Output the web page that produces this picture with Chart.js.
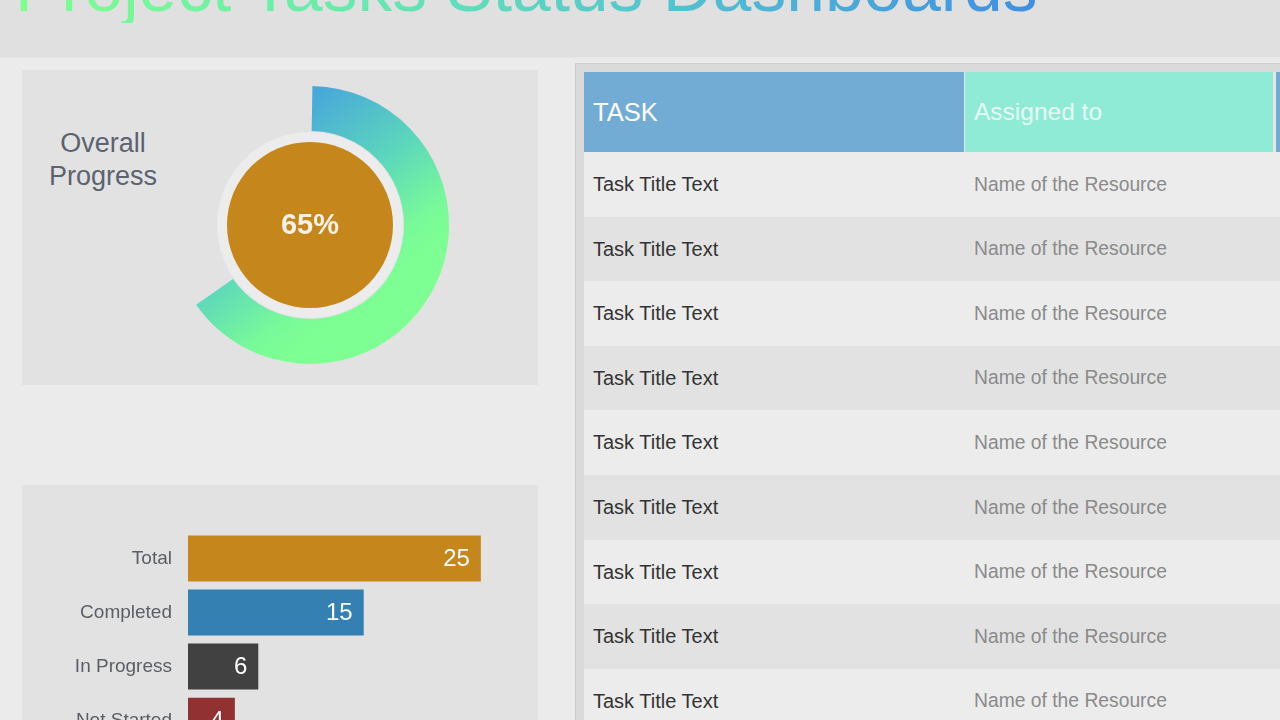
<!DOCTYPE html>
<html>
<head>
<meta charset="utf-8">
<script src="https://cdn.jsdelivr.net/npm/chart.js@4.4.0/dist/chart.umd.min.js"></script>
<style>
    body { margin: 0; width: 1280px; height: 720px; overflow: hidden; background: #ebebeb; font-family: "Liberation Sans", Arial, sans-serif; position: relative; }
    .topband { position: absolute; left: 0; top: 0; width: 1280px; height: 57px; background: #e0e0e0; border-bottom: 1px solid #e6e6e6; overflow: hidden; }
    .title { position: absolute; left: 15px; top: -47px; font-size: 69.5px; line-height: 69.5px; white-space: nowrap;
        background: linear-gradient(90deg, #7dff8f 0%, #66e8b0 35%, #55c8cc 60%, #3f8fe2 100%);
        -webkit-background-clip: text; background-clip: text; color: transparent; }
    .panel { position: absolute; left: 22px; width: 516px; background: #e2e2e2; }
    .prog_label { position: absolute; left: 28px; top: 127px; width: 150px; text-align: center; font-size: 27px; line-height: 33px; color: #5b6270; }
    canvas { position: absolute; }
    .frame { position: absolute; left: 575px; top: 63px; width: 705px; height: 670px; background: #dadada; border-left: 1px solid #c9c9c9; border-top: 1px solid #cdcdcd; }
    .tbl { position: absolute; left: 584px; top: 72px; width: 696px; height: 660px; background: #ececec; overflow: hidden; }
    .row { position: absolute; left: 0; width: 696px; height: 65px; }
    .cell { position: absolute; top: 0; height: 100%; display: flex; align-items: center; box-sizing: border-box; padding-left: 9px; font-size: 20px; white-space: nowrap; }
</style>
</head>
<body>

<div class="topband"><div class="title">Project Tasks Status Dashboards</div></div>

<div class="panel" style="top:70px;height:315px;"></div>
<div class="prog_label">Overall<br>Progress</div>
<canvas id="progress_chart" width="300" height="300" style="left:160px;top:75px;"></canvas>

<div class="panel" style="top:485px;height:260px;"></div>
<canvas id="status_chart" width="516" height="290" style="left:22px;top:485px;"></canvas>

<div class="frame"></div>
<div class="tbl" id="task_table"></div>

<script>
// overall progress
const progress_labels = ['Done', 'Remaining'];
const progress_values = [65, 35];

// task status counts
const status_labels = ['Total', 'Completed', 'In Progress', 'Not Started'];
const status_values = [25, 15, 6, 4];
const status_colors = ['#c5861b', '#3480b2', '#414141', '#923131'];

// task table
const table_headers = ['TASK', 'Assigned to', ''];
const task_titles = ['Task Title Text', 'Task Title Text', 'Task Title Text', 'Task Title Text', 'Task Title Text',
    'Task Title Text', 'Task Title Text', 'Task Title Text', 'Task Title Text'];
const task_owners = ['Name of the Resource', 'Name of the Resource', 'Name of the Resource', 'Name of the Resource',
    'Name of the Resource', 'Name of the Resource', 'Name of the Resource', 'Name of the Resource', 'Name of the Resource'];

Chart.defaults.font.family = '"Liberation Sans", Arial, sans-serif';


// PROGRESS DOUGHNUT
const center_plugin = {
    id: 'center_plugin',
    afterDatasetsDraw(chart) {
        const arc = chart.getDatasetMeta(0).data[0];
        const ctx = chart.ctx;
        ctx.save();
        ctx.beginPath();
        ctx.arc(arc.x, arc.y, 93, 0, Math.PI * 2);
        ctx.fillStyle = '#ececec';
        ctx.fill();
        ctx.beginPath();
        ctx.arc(arc.x, arc.y, 83, 0, Math.PI * 2);
        ctx.fillStyle = '#c5861b';
        ctx.fill();
        ctx.fillStyle = '#f7f1e8';
        ctx.font = 'bold 29px "Liberation Sans", Arial, sans-serif';
        ctx.textAlign = 'center';
        ctx.textBaseline = 'middle';
        ctx.fillText(progress_values[0] + '%', arc.x, arc.y + 1);
        ctx.restore();
    }
};

new Chart(document.getElementById('progress_chart'), {
    type: 'doughnut',
    data: {
        labels: progress_labels,
        datasets: [{
            data: progress_values,
            borderWidth: 0,
            backgroundColor: function(context) {
                if (context.dataIndex === 1) return 'rgba(0,0,0,0)';
                const ctx = context.chart.ctx;
                const grad = ctx.createLinearGradient(84, 62, 204, 222);
                grad.addColorStop(0, '#47a4dc');
                grad.addColorStop(0.5, '#5cd6bc');
                grad.addColorStop(0.85, '#78f99a');
                grad.addColorStop(1, '#7dff93');
                return grad;
            }
        }]
    },
    options: {
        responsive: false,
        animation: false,
        cutout: 94,
        rotation: 1,
        layout: { padding: 11 },
        events: [],
        plugins: { legend: { display: false }, tooltip: { enabled: false } }
    },
    plugins: [center_plugin]
});


// STATUS BARS
const value_plugin = {
    id: 'value_plugin',
    afterDatasetsDraw(chart) {
        const ctx = chart.ctx;
        ctx.save();
        ctx.fillStyle = '#ffffff';
        ctx.font = '24px "Liberation Sans", Arial, sans-serif';
        ctx.textAlign = 'right';
        ctx.textBaseline = 'middle';
        chart.getDatasetMeta(0).data.forEach((bar, i) => {
            ctx.fillText(status_values[i], bar.x - 11, bar.y + 1);
        });
        ctx.restore();
    }
};

new Chart(document.getElementById('status_chart'), {
    type: 'bar',
    data: {
        labels: status_labels,
        datasets: [{
            data: status_values,
            backgroundColor: status_colors,
            borderWidth: 0,
            barPercentage: 0.85,
            categoryPercentage: 1
        }]
    },
    options: {
        indexAxis: 'y',
        responsive: false,
        animation: false,
        events: [],
        layout: { padding: { top: 46.5, bottom: 7.5, right: 22, left: 0 } },
        scales: {
            x: { display: false, min: 0, max: 28 },
            y: {
                grid: { display: false, drawTicks: false },
                border: { display: false },
                afterFit: function(scale) { scale.width = 166; },
                ticks: { padding: 16, color: '#5a5f66', font: { size: 19 } }
            }
        },
        plugins: { legend: { display: false }, tooltip: { enabled: false } }
    },
    plugins: [value_plugin]
});


// TASK TABLE
const table = document.getElementById('task_table');
const col_left = [0, 381, 692];
const col_width = [380, 308, 20];
const header_colors = ['#72acd4', '#8febd5', '#72acd4'];

const header = document.createElement('div');
header.className = 'row';
header.style.top = '0px';
header.style.height = '80px';
header.style.background = '#e6e6e6';
table_headers.forEach((h, i) => {
    const c = document.createElement('div');
    c.className = 'cell';
    c.style.left = col_left[i] + 'px';
    c.style.width = col_width[i] + 'px';
    c.style.background = header_colors[i];
    c.style.fontSize = i === 1 ? '24.5px' : '25.5px';
    c.style.color = i === 1 ? 'rgba(255,255,255,0.8)' : '#ffffff';
    c.textContent = h;
    header.appendChild(c);
});
table.appendChild(header);

task_titles.forEach((t, r) => {
    const row = document.createElement('div');
    row.className = 'row';
    row.style.top = (80 + r * 64.6) + 'px';
    row.style.background = r % 2 === 0 ? '#ececec' : '#e2e2e2';
    const a = document.createElement('div');
    a.className = 'cell';
    a.style.left = '0px';
    a.style.width = '380px';
    a.style.color = '#333333';
    a.textContent = t;
    const b = document.createElement('div');
    b.className = 'cell';
    b.style.left = '381px';
    b.style.width = '308px';
    b.style.color = '#8a8a8a';
    b.style.fontSize = '19.3px';
    b.textContent = task_owners[r];
    row.appendChild(a);
    row.appendChild(b);
    table.appendChild(row);
});
</script>
</body>
</html>
